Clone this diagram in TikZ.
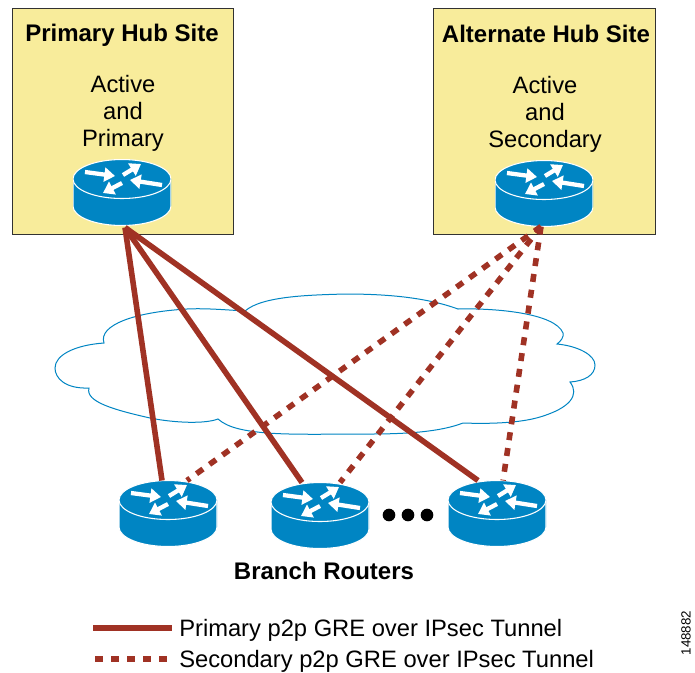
\documentclass[tikz,border=0pt]{standalone}
\usepackage{fontspec}
\setmainfont{Liberation Sans}
\usetikzlibrary{arrows.meta, calc}

\tikzset{
    router/.style={minimum width=73.5pt, minimum height=49.5pt, inner sep=0pt, outer sep=0pt,
        path picture={
            \begin{scope}[shift={(path picture bounding box.center)}]
                \draw[white, fill=routerblue, line width=0.8pt] (-49,-13.5) -- (-49,13.5) arc[start angle=180, end angle=0, x radius=49, y radius=19.5] -- (49,-13.5);
                \draw[white, fill=routerblue, line width=0.8pt] (0,-13.5) ellipse[x radius=49, y radius=19.5];
                \foreach \tx/\ty/\hx/\hy in {-37/-20.5/-7/-16.5, 1/-17.5/19/-28.5, 0/-9.5/-19/0.5, 40/-7.5/8/-12.5} {
                    \draw[white, line width=3.2pt, -{Triangle[length=8pt, width=10.5pt]}] (\tx,\ty) -- (\hx,\hy);
                }
            \end{scope}
        }},
    hubbox/.style={draw=boxline, fill=hubyellow, line width=0.7pt, minimum width=166pt, minimum height=169.5pt, inner sep=0pt},
    primaryline/.style={draw=tunnelred, line width=4.2pt},
    secondaryline/.style={draw=tunnelred, line width=4.2pt, dash pattern=on 6pt off 6pt},
    label/.style={font=\fontsize{17.8}{20}\selectfont, inner sep=0pt},
    boldlabel/.style={font=\fontsize{18}{20}\selectfont\bfseries, inner sep=0pt},
    dotmark/.style={circle, fill=black, minimum size=9.5pt, inner sep=0pt}
}

\begin{document}
\begin{tikzpicture}[x=0.75pt, y=-0.75pt]
    % Define local colors
    \definecolor{routerblue}{RGB}{0, 133, 195}
    \definecolor{hubyellow}{RGB}{248, 236, 155}
    \definecolor{boxline}{RGB}{50, 50, 50}
    \definecolor{tunnelred}{RGB}{160, 50, 36}

    \useasboundingbox (0,0) rectangle (695,672);

    % Hub sites
    \node[hubbox] (primarybox) at (123,121) {};
    \node[hubbox] (alternatebox) at (544.5,121) {};
    \node[boldlabel] (primarytitle) at (122,35.5) {Primary Hub Site};
    \node[boldlabel] (alternatetitle) at (546,34) {Alternate Hub Site};
    \foreach \name/\x/\y/\txt in {pa/123/84/Active, pb/123/111/and, pc/123/140/Primary, aa/545/85/Active, ab/545/112/and, ac/545/141/Secondary} {
        \node[label] (\name) at (\x,\y) {\txt};
    }

    % Cloud
    \draw[routerblue, line width=0.75pt, fill=white] (104,343)
        .. controls (98,325) and (135,312) .. (187,309)
        .. controls (205,308) and (228,310) .. (245,311)
        .. controls (262,296) and (310,295) .. (345,294)
        .. controls (385,294) and (425,297) .. (458,309)
        .. controls (495,308) and (555,313) .. (563,333)
        .. controls (564,337) and (561,341) .. (557,344)
        .. controls (578,346) and (595,355) .. (595,365)
        .. controls (595,375) and (585,381) .. (570,382)
        .. controls (580,395) and (570,408) .. (540,417)
        .. controls (520,423) and (490,424) .. (463,423)
        .. controls (440,432) and (405,434) .. (370,434)
        .. controls (330,434) and (295,435) .. (267,433)
        .. controls (245,431) and (228,428) .. (218,419)
        .. controls (205,424) and (175,423) .. (150,418)
        .. controls (115,410) and (85,402) .. (89,388)
        .. controls (65,389) and (55,378) .. (55,368)
        .. controls (55,355) and (75,345) .. (104,343) -- cycle;

    % Routers
    \node[router] (primary) at (122,192.5) {};
    \node[router] (alternate) at (544,193.5) {};
    \node[router] (branch1) at (168,513.5) {};
    \node[router] (branch2) at (320,515.5) {};
    \node[router] (branch3) at (497,513.5) {};

    % Tunnels
    \coordinate (primarytail) at ($(primary.south)+(3,2)$);
    \coordinate (alternatetail) at ($(alternate.south)+(-3,0)$);
    \foreach \b/\dx in {branch1/-6, branch2/-18, branch3/-19} {
        \draw[primaryline] (primarytail) -- ($(\b.north)+(\dx,0)$);
    }
    \foreach \b/\dx in {branch1/19, branch2/20, branch3/6} {
        \draw[secondaryline] (alternatetail) -- ($(\b.north)+(\dx,0)$);
    }

    % Dots between branches
    \foreach \i/\x in {1/389, 2/408, 3/427} {
        \node[dotmark] (dot\i) at (\x,515) {};
    }
    \node[boldlabel] (branchlabel) at (324,571) {Branch Routers};

    % Legend
    \coordinate (solidstart) at (93,628);
    \coordinate (solidend) at (172,628);
    \coordinate (dashstart) at (95,659);
    \coordinate (dashend) at (167,659);
    \draw[primaryline] (solidstart) -- (solidend);
    \draw[secondaryline] (dashstart) -- (dashend);
    \node[label, anchor=west] (primarylegend) at (179,630.5) {Primary p2p GRE over IPsec Tunnel};
    \node[label, anchor=west] (secondarylegend) at (179,661.5) {Secondary p2p GRE over IPsec Tunnel};

    \node[font=\fontsize{10}{12}\selectfont, rotate=90, inner sep=0pt] (figid) at (686,633) {148882};
\end{tikzpicture}
\end{document}
